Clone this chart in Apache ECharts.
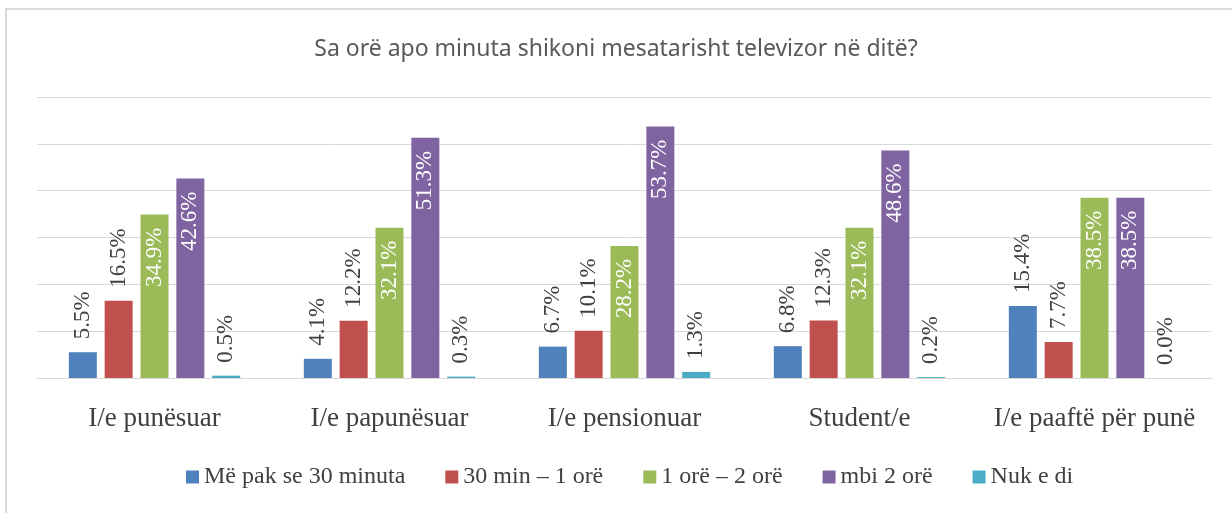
<!DOCTYPE html>
<html>
<head>
<meta charset="utf-8">
<script src="https://cdn.jsdelivr.net/npm/echarts@6/dist/echarts.min.js"></script>
<style>
  html, body { margin: 0; padding: 0; background: #fff; }
  #chart { width: 1232px; height: 513px; }
</style>
</head>
<body>
<div id="chart"></div>
<script>
var categories = ['I/e punësuar', 'I/e papunësuar', 'I/e pensionuar', 'Student/e', 'I/e paaftë për punë'];
var seriesNames = ['Më pak se 30 minuta', '30 min – 1 orë', '1 orë – 2 orë', 'mbi 2 orë', 'Nuk e di'];
var lessThan30 = [5.5, 4.1, 6.7, 6.8, 15.4];
var min30to1h = [16.5, 12.2, 10.1, 12.3, 7.7];
var h1to2 = [34.9, 32.1, 28.2, 32.1, 38.5];
var over2h = [42.6, 51.3, 53.7, 48.6, 38.5];
var dontKnow = [0.5, 0.3, 1.3, 0.2, 0.0];

var colors = ['#4F81BD', '#C0504D', '#9BBB59', '#8064A2', '#4BACC6'];
var serifFont = '"Liberation Serif", "DejaVu Serif", serif';

var chart = echarts.init(document.getElementById('chart'));

// small bars get the value above, big ones inside in white
function barLabel(inside) {
  return {
    show: true,
    position: inside ? 'insideTop' : 'top',
    distance: 13,
    rotate: 90,
    align: inside ? 'right' : 'left',
    verticalAlign: 'middle',
    color: inside ? '#ffffff' : '#404040',
    fontFamily: serifFont,
    fontSize: 23,
    formatter: function (p) { return p.value.toFixed(1) + '%'; }
  };
}

var allData = [lessThan30, min30to1h, h1to2, over2h, dontKnow];

var series = allData.map(function (d, i) {
  return {
    name: seriesNames[i],
    type: 'bar',
    data: d,
    barWidth: 28,
    barGap: '28%',
    itemStyle: { color: colors[i] },
    label: barLabel(i === 2 || i === 3)
  };
});

var option = {
  animation: false,
  backgroundColor: '#ffffff',
  color: colors,
  graphic: [{
    type: 'rect',
    shape: { x: 6, y: 9, width: 1240, height: 520 },
    style: { fill: 'none', stroke: '#d9d9d9', lineWidth: 2 },
    silent: true
  }],
  title: {
    text: 'Sa orë apo minuta shikoni mesatarisht televizor në ditë?',
    left: 'center',
    top: 33,
    textStyle: {
      fontFamily: '"Noto Sans", "Open Sans", sans-serif',
      fontSize: 23,
      fontWeight: 'normal',
      color: '#595959'
    }
  },
  legend: {
    data: seriesNames,
    bottom: 19,
    left: 181,
    itemWidth: 13,
    itemHeight: 13,
    itemGap: 40,
    icon: 'rect',
    textStyle: {
      fontFamily: serifFont,
      fontSize: 24,
      color: '#404040'
    }
  },
  grid: {
    left: 37,
    right: 20,
    top: 97,
    bottom: 135,
    containLabel: false
  },
  xAxis: {
    type: 'category',
    data: categories,
    axisTick: { show: false },
    axisLine: { lineStyle: { color: '#d9d9d9', width: 1 } },
    axisLabel: {
      interval: 0,
      hideOverlap: false,
      margin: 27,
      fontFamily: serifFont,
      fontSize: 27,
      color: '#404040'
    }
  },
  yAxis: {
    type: 'value',
    min: 0,
    max: 60,
    interval: 10,
    axisLabel: { show: false },
    axisLine: { show: false },
    axisTick: { show: false },
    splitLine: { lineStyle: { color: '#d9d9d9', width: 1 } }
  },
  series: series
};

chart.setOption(option);
</script>
</body>
</html>
